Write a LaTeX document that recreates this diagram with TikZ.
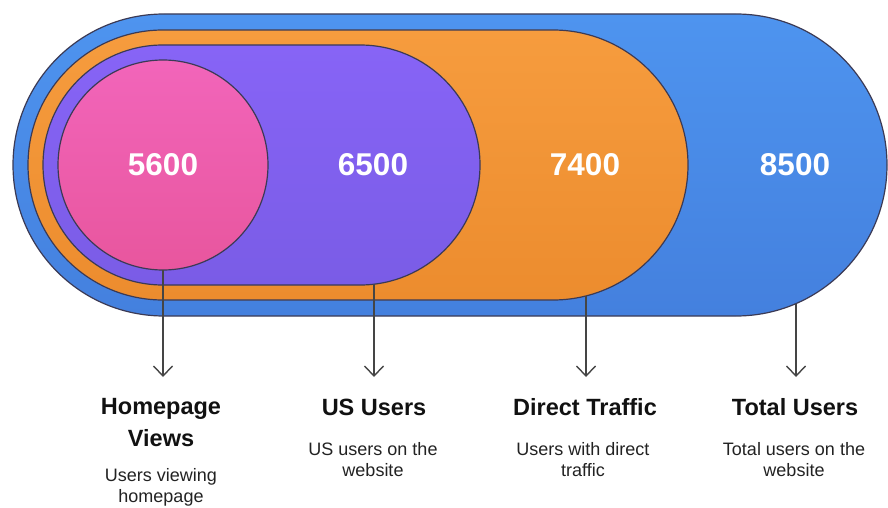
\documentclass[tikz,border=0pt]{standalone}
\usepackage{fontspec}
\setmainfont{Liberation Sans}
\usetikzlibrary{shapes.misc,shapes.geometric,arrows.meta}
\definecolor{bluetop}{HTML}{4E94EF}
\definecolor{bluebot}{HTML}{4480DE}
\definecolor{oratop}{HTML}{F69C3E}
\definecolor{orabot}{HTML}{EC8C2E}
\definecolor{purtop}{HTML}{8764F6}
\definecolor{purbot}{HTML}{7A5CE6}
\definecolor{pintop}{HTML}{F265BA}
\definecolor{pinbot}{HTML}{E8569E}
\definecolor{edge}{HTML}{3B3A55}
\definecolor{conn}{HTML}{454545}
\definecolor{titlec}{HTML}{111111}
\definecolor{descc}{HTML}{222222}
\tikzset{
  pill/.style={rounded rectangle, draw=edge, line width=1.2pt, inner sep=0pt},
  num/.style={text=white, font=\fontsize{31.5}{31.5}\selectfont\bfseries, anchor=center},
  ttl/.style={text=titlec, font=\fontsize{23.5}{32}\selectfont\bfseries, align=center, anchor=base},
  dsc/.style={text=descc, font=\fontsize{18}{21}\selectfont, align=center, anchor=base},
  conn/.style={draw=conn, line width=1.4pt, -{Straight Barb[length=10pt,width=19pt,line width=1.4pt]}}
}
\begin{document}
\begin{tikzpicture}[x=1pt,y=-1pt]
\useasboundingbox (0,0) rectangle (888,508);
% nested shapes
\node[pill, top color=bluetop, bottom color=bluebot, minimum width=874pt, minimum height=302pt] (blue) at (450,165) {};
\node[pill, top color=oratop, bottom color=orabot, minimum width=660pt, minimum height=270pt] (orange) at (358,165) {};
\node[pill, top color=purtop, bottom color=purbot, minimum width=437pt, minimum height=240pt] (purple) at (261.5,165) {};
\node[circle, draw=edge, line width=1.2pt, top color=pintop, bottom color=pinbot, minimum size=210pt, inner sep=0pt] (pink) at (163,165) {};
% numbers
\node[num] (n1) at (163,165) {5600};
\node[num] (n2) at (373,165) {6500};
\node[num] (n3) at (585,165) {7400};
\node[num] (n4) at (795,165) {8500};
% start points on the shape borders
\coordinate (s1) at (163,270);
\coordinate (s2) at (374,284);
\coordinate (s3) at (586,296);
\coordinate (s4) at (796,304);
% arrow ends
\coordinate (e1) at (163,377);
\coordinate (e2) at (374,377);
\coordinate (e3) at (586,377);
\coordinate (e4) at (796,377);
% titles (base anchor = baseline of last line)
\node[ttl] (t1) at (161,446) {Homepage\\Views};
\node[ttl] (t2) at (374,415) {US Users};
\node[ttl] (t3) at (585,415) {Direct Traffic};
\node[ttl] (t4) at (795,415) {Total Users};
% descriptions
\node[dsc] (d1) at (161,502) {Users viewing\\homepage};
\node[dsc] (d2) at (373,476) {US users on the\\website};
\node[dsc] (d3) at (583,476) {Users with direct\\traffic};
\node[dsc] (d4) at (794,476) {Total users on the\\website};
% connectors
\draw[conn] (s1) -- (e1);
\draw[conn] (s2) -- (e2);
\draw[conn] (s3) -- (e3);
\draw[conn] (s4) -- (e4);
\end{tikzpicture}
\end{document}
